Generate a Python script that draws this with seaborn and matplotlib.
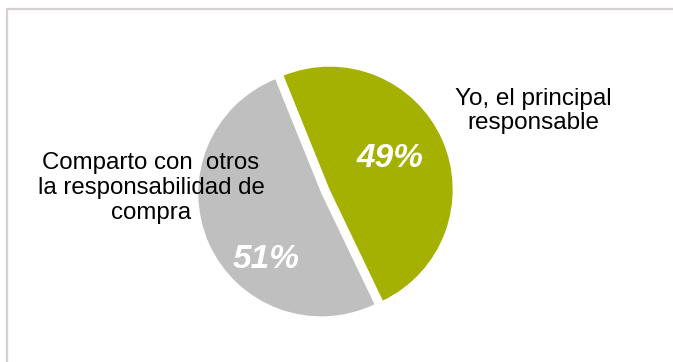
import matplotlib
matplotlib.use("Agg")
import matplotlib.pyplot as plt
import seaborn as sns
from matplotlib.lines import Line2D

# Data
categories = ["Yo, el principal\nresponsable", "Comparto con  otros\nla responsabilidad de\ncompra"]
values = [49, 51]
colors = ["#A5B100", "#BFBFBF"]

sns.set_theme(style="white")
plt.rcParams['font.family'] = ['Liberation Sans', 'DejaVu Sans']

W, H = 673, 362
fig = plt.figure(figsize=(W / 100, H / 100), dpi=100)
fig.patch.set_facecolor("white")

def fx(x):
    return x / W

def fy(y):
    return 1 - y / H

# frame (top and left edges visible)
frame_col = "#D6D0D0"
fig.add_artist(Line2D([fx(7), fx(W + 5)], [fy(8.5), fy(8.5)], transform=fig.transFigure,
                      color=frame_col, linewidth=1.6))
fig.add_artist(Line2D([fx(7), fx(7)], [fy(8.5), fy(H + 5)], transform=fig.transFigure,
                      color=frame_col, linewidth=1.6))

# pie axes
r_px = 123
s = 1.2
side = 2 * s * r_px
cx, cy = 325.5, 191.5
ax = fig.add_axes([fx(cx - side / 2), (H - cy - side / 2) / H, side / W, side / H])
ax.pie(values, colors=colors, startangle=112, counterclock=False,
       explode=[0.037, 0.037], radius=1,
       wedgeprops=dict(linewidth=0))
ax.set_xlim(-s, s)
ax.set_ylim(-s, s)
ax.set_aspect("equal")
ax.axis("off")

# category labels
fig.text(fx(533), fy(111), categories[0], ha="center", va="center",
         fontsize=17.5, color="#000000", linespacing=1.15)
fig.text(fx(151), fy(188), categories[1], ha="center", va="center",
         fontsize=17.3, color="#000000", linespacing=1.15)

# percent labels
fig.text(fx(390), fy(167), f"{values[0]}%", ha="center", va="baseline",
         fontsize=24, color="white", fontweight="bold", fontstyle="italic")
fig.text(fx(266), fy(268), f"{values[1]}%", ha="center", va="baseline",
         fontsize=24, color="white", fontweight="bold", fontstyle="italic")

fig.savefig("out.png", dpi=100, facecolor="white")
